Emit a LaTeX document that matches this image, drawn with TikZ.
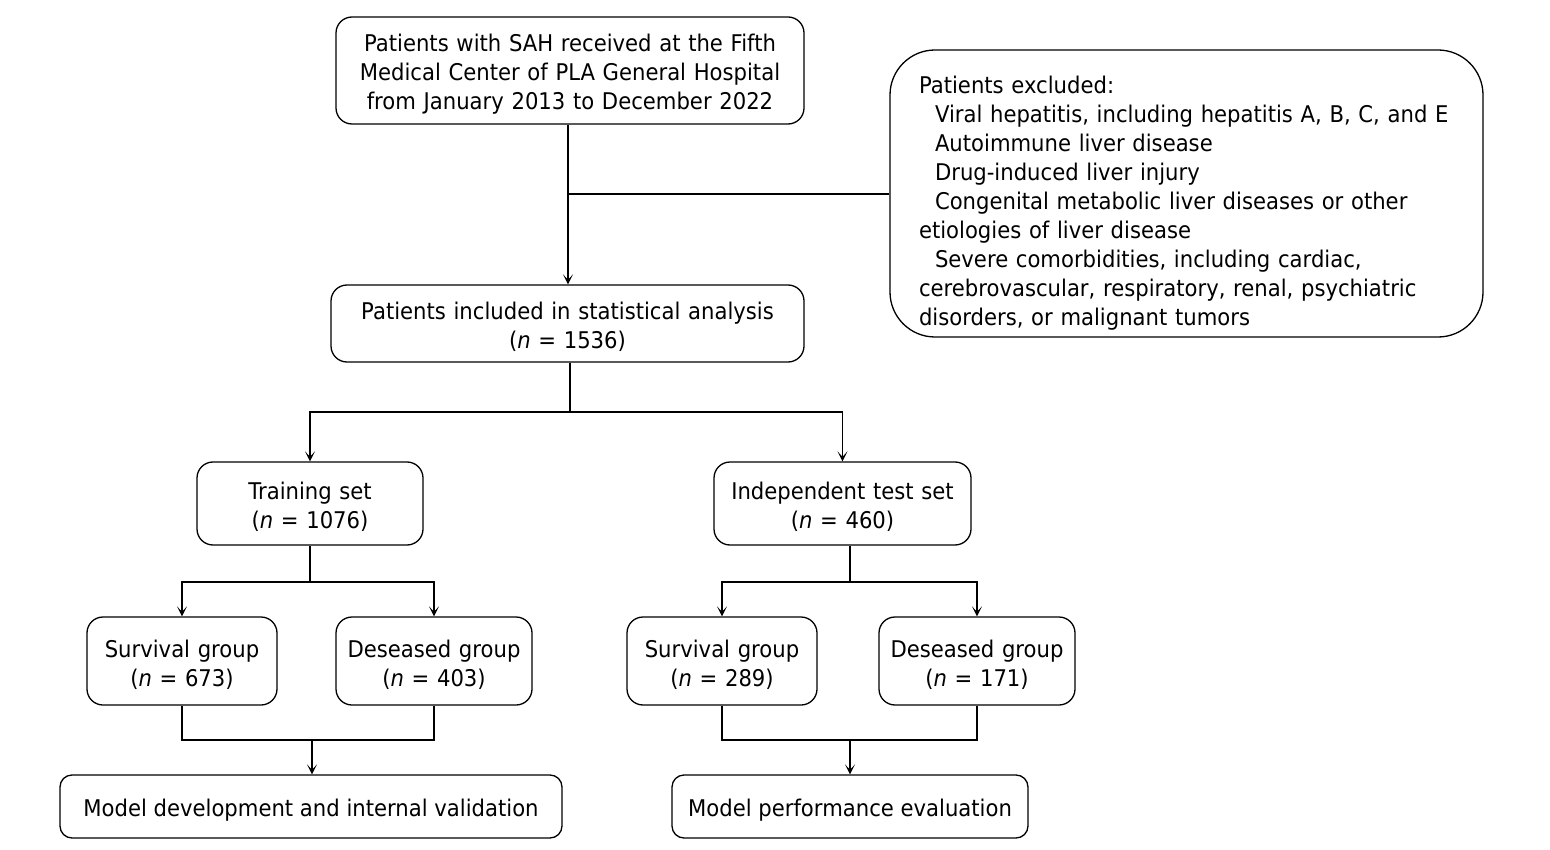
\documentclass[tikz,border=0pt]{standalone}
\usepackage{fontspec}
\setmainfont{DejaVu Sans}[FakeStretch=0.92]
\usetikzlibrary{arrows.meta,calc}
\begin{document}
\begin{tikzpicture}[x=1pt,y=-1pt,
  box/.style={draw,rounded corners=16pt,line width=1.3pt,align=center,inner sep=0pt,
    font=\fontsize{23}{29}\selectfont,execute at begin node={\rule{0pt}{24.5pt}}},
  conn/.style={line width=1.3pt},
  arr/.style={line width=1.3pt,-{Stealth[length=10pt,width=10pt,inset=5.5pt]}}]
\useasboundingbox (0,0) rectangle (1550,850);
\newcommand{\nn}{\textit{n}}
% nodes
\node[box,minimum width=468,minimum height=107,text width=460] (top) at (570,70.5)
  {Patients with SAH received at the Fifth\\Medical Center of PLA General Hospital\\from January 2013 to December 2022};
\node[box,rounded corners=45pt,minimum width=593,minimum height=287,align=left,text width=535,
  execute at begin node={\rule{0pt}{36pt}}] (excl) at (1186.5,193.5)
  {Patients excluded:\\
  \hspace*{16pt}Viral hepatitis, including hepatitis A, B, C, and E\\
  \hspace*{16pt}Autoimmune liver disease\\
  \hspace*{16pt}Drug-induced liver injury\\
  \hspace*{16pt}Congenital metabolic liver diseases or other\\
  etiologies of liver disease\\
  \hspace*{16pt}Severe comorbidities, including cardiac,\\
  cerebrovascular, respiratory, renal, psychiatric\\
  disorders, or malignant tumors};
\node[box,minimum width=473,minimum height=77,text width=465] (stat) at (567.5,323.5)
  {Patients included in statistical analysis\\(\nn{} = 1536)};
\node[box,minimum width=226,minimum height=83,text width=218] (train) at (310,503.5)
  {Training set\\(\nn{} = 1076)};
\node[box,minimum width=257,minimum height=83,text width=249] (test) at (842.5,503.5)
  {Independent test set\\(\nn{} = 460)};
\node[box,minimum width=190,minimum height=88,text width=186] (s1) at (182,661)
  {Survival group\\(\nn{} = 673)};
\node[box,minimum width=196,minimum height=88,text width=192] (d1) at (434,661)
  {Deseased group\\(\nn{} = 403)};
\node[box,minimum width=190,minimum height=88,text width=186] (s2) at (722,661)
  {Survival group\\(\nn{} = 289)};
\node[box,minimum width=196,minimum height=88,text width=192] (d2) at (977,661)
  {Deseased group\\(\nn{} = 171)};
\node[box,rounded corners=12pt,minimum width=502,minimum height=63] (dev) at (311,806.5)
  {Model development and internal validation};
\node[box,rounded corners=12pt,minimum width=356,minimum height=63] (perf) at (850,806.5)
  {Model performance evaluation};
% connectors
\coordinate (j1) at (568,194);
\draw[arr] (top.south -| j1) -- (stat.north -| j1);
\draw[conn] (j1) -- (excl.west |- j1);
\coordinate (j2) at (570,412);
\draw[conn] (stat.south -| j2) -- (j2);
\draw[arr] (j2) -| (train.north);
\draw[arr] (j2) -| (test.north);
\coordinate (j3) at (310,582);
\draw[conn] (train.south) -- (j3);
\draw[arr] (j3) -| (s1.north);
\draw[arr] (j3) -| (d1.north);
\coordinate (j4) at (850,582);
\draw[conn] (test.south -| j4) -- (j4);
\draw[arr] (j4) -| (s2.north);
\draw[arr] (j4) -| (d2.north);
\coordinate (j5) at (312,740);
\draw[conn] (s1.south) |- (j5) -| (d1.south);
\draw[arr] (j5) -- (dev.north -| j5);
\coordinate (j6) at (850,740);
\draw[conn] (s2.south) |- (j6) -| (d2.south);
\draw[arr] (j6) -- (perf.north);
\end{tikzpicture}
\end{document}
